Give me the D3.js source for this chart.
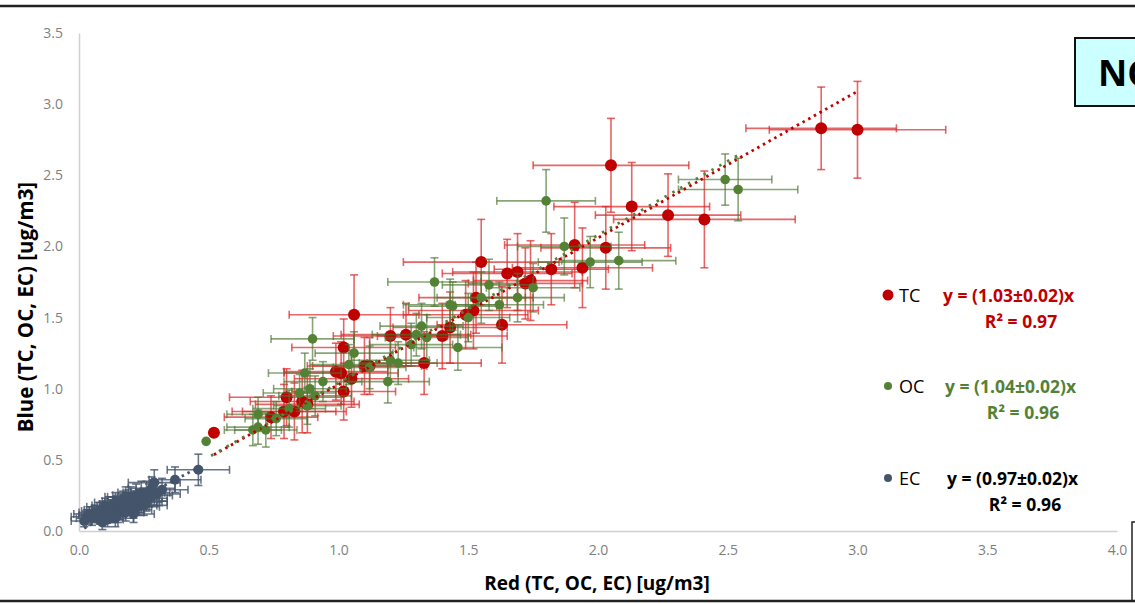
<!DOCTYPE html>
<html>
<head>
<meta charset="utf-8">
<script src="https://cdn.jsdelivr.net/npm/d3@7/dist/d3.min.js"></script>
<style>
  body { margin: 0; background: #fff; }
  svg { display: block; }
</style>
</head>
<body>
<div id="chart"></div>
<script>
// TC (red) points
let tcX    = [2.86, 3.00, 2.05, 2.13, 2.27, 2.41, 2.03, 1.94, 1.91, 1.82, 1.74, 1.72, 1.69, 1.65, 1.55, 1.63, 1.53, 1.52, 1.49, 1.43, 1.40, 1.26, 1.20, 1.33, 1.06, 1.02, 1.10, 1.12, 0.99, 1.01, 1.05, 1.02, 0.80, 0.86, 0.88, 0.79, 0.83, 0.74, 0.52];
let tcY    = [2.83, 2.82, 2.57, 2.28, 2.22, 2.19, 1.99, 1.85, 2.01, 1.84, 1.76, 1.74, 1.82, 1.81, 1.89, 1.45, 1.64, 1.55, 1.52, 1.43, 1.37, 1.38, 1.37, 1.18, 1.52, 1.29, 1.16, 1.16, 1.12, 1.11, 1.07, 0.98, 0.94, 0.91, 0.89, 0.84, 0.84, 0.80, 0.69];
let tcXErr = [0.29, 0.34, 0.30, 0.30, 0.28, 0.35, 0.25, 0.27, 0.27, 0.22, 0.22, 0.22, 0.25, 0.25, 0.30, 0.25, 0.22, 0.25, 0.24, 0.22, 0.25, 0.25, 0.22, 0.22, 0.25, 0.20, 0.22, 0.22, 0.20, 0.22, 0.22, 0.20, 0.22, 0.20, 0.20, 0.20, 0.20, 0.18, 0.00];
let tcYErr = [0.29, 0.34, 0.33, 0.31, 0.29, 0.34, 0.29, 0.28, 0.30, 0.25, 0.28, 0.25, 0.27, 0.24, 0.30, 0.27, 0.25, 0.27, 0.24, 0.25, 0.23, 0.22, 0.20, 0.22, 0.28, 0.20, 0.20, 0.20, 0.20, 0.22, 0.20, 0.20, 0.20, 0.22, 0.20, 0.19, 0.20, 0.15, 0.00];

// OC (green) points
let ocX    = [2.49, 2.54, 1.80, 1.87, 1.97, 2.08, 1.58, 1.75, 1.69, 1.55, 1.62, 1.43, 1.37, 1.44, 1.50, 1.32, 1.30, 1.34, 1.28, 1.46, 1.23, 1.20, 1.19, 1.06, 1.04, 1.12, 0.90, 0.87, 0.94, 0.85, 0.89, 0.91, 0.88, 0.81, 0.76, 0.69, 0.69, 0.67, 0.72, 0.49];
let ocY    = [2.47, 2.40, 2.32, 2.00, 1.89, 1.90, 1.73, 1.71, 1.64, 1.64, 1.59, 1.59, 1.75, 1.58, 1.50, 1.44, 1.38, 1.36, 1.31, 1.29, 1.18, 1.20, 1.05, 1.25, 1.17, 1.15, 1.35, 1.11, 1.05, 0.97, 1.00, 0.95, 0.88, 0.86, 0.79, 0.82, 0.73, 0.71, 0.71, 0.63];
let ocXErr = [0.18, 0.23, 0.19, 0.18, 0.20, 0.22, 0.18, 0.18, 0.18, 0.17, 0.17, 0.18, 0.18, 0.17, 0.16, 0.16, 0.17, 0.16, 0.16, 0.17, 0.15, 0.15, 0.16, 0.15, 0.15, 0.14, 0.16, 0.14, 0.15, 0.14, 0.14, 0.14, 0.13, 0.14, 0.12, 0.12, 0.12, 0.11, 0.12, 0.00];
let ocYErr = [0.18, 0.22, 0.22, 0.20, 0.18, 0.20, 0.18, 0.17, 0.17, 0.18, 0.16, 0.18, 0.17, 0.17, 0.17, 0.16, 0.15, 0.16, 0.15, 0.16, 0.15, 0.15, 0.15, 0.15, 0.14, 0.15, 0.15, 0.14, 0.14, 0.13, 0.14, 0.14, 0.13, 0.13, 0.12, 0.12, 0.12, 0.11, 0.12, 0.00];

// EC (slate) points
let ecX    = [0.02, 0.03, 0.04, 0.05, 0.06, 0.07, 0.08, 0.08, 0.09, 0.10, 0.10, 0.11, 0.12, 0.12, 0.13, 0.13, 0.14, 0.14, 0.15, 0.15, 0.16, 0.16, 0.17, 0.17, 0.18, 0.18, 0.19, 0.19, 0.20, 0.20, 0.21, 0.21, 0.22, 0.22, 0.23, 0.23, 0.24, 0.24, 0.25, 0.26, 0.26, 0.27, 0.28, 0.29, 0.30, 0.32, 0.37, 0.46, 0.11, 0.09, 0.14, 0.18, 0.21, 0.25];
let ecY    = [0.07, 0.10, 0.12, 0.09, 0.13, 0.11, 0.14, 0.10, 0.15, 0.12, 0.17, 0.14, 0.11, 0.16, 0.18, 0.13, 0.15, 0.20, 0.12, 0.17, 0.19, 0.14, 0.21, 0.16, 0.18, 0.13, 0.22, 0.17, 0.19, 0.24, 0.15, 0.21, 0.18, 0.25, 0.22, 0.17, 0.20, 0.27, 0.23, 0.27, 0.21, 0.25, 0.30, 0.34, 0.26, 0.29, 0.36, 0.43, 0.08, 0.06, 0.09, 0.24, 0.12, 0.18];
let ecXErr = [0.05, 0.06, 0.06, 0.06, 0.06, 0.07, 0.07, 0.06, 0.07, 0.07, 0.07, 0.07, 0.06, 0.07, 0.08, 0.07, 0.07, 0.08, 0.07, 0.08, 0.08, 0.07, 0.08, 0.08, 0.08, 0.07, 0.08, 0.08, 0.08, 0.09, 0.07, 0.08, 0.08, 0.09, 0.08, 0.08, 0.08, 0.09, 0.09, 0.09, 0.08, 0.09, 0.09, 0.10, 0.09, 0.10, 0.10, 0.12, 0.06, 0.06, 0.07, 0.08, 0.08, 0.09];
let ecYErr = [0.04, 0.05, 0.05, 0.05, 0.05, 0.05, 0.06, 0.05, 0.06, 0.06, 0.06, 0.06, 0.05, 0.06, 0.06, 0.06, 0.06, 0.07, 0.06, 0.06, 0.07, 0.06, 0.07, 0.06, 0.07, 0.06, 0.07, 0.06, 0.07, 0.07, 0.06, 0.07, 0.07, 0.08, 0.07, 0.06, 0.07, 0.08, 0.07, 0.08, 0.07, 0.08, 0.08, 0.09, 0.08, 0.08, 0.09, 0.11, 0.05, 0.05, 0.06, 0.07, 0.06, 0.07];

// fits and legend
let fitSlopes = [1.03, 1.04, 0.97];
let fitFrom   = [0.52, 0.49, 0.02];
let fitTo     = [3.00, 2.54, 0.46];
let seriesNames = ["TC", "OC", "EC"];
let equations = ["y = (1.03±0.02)x", "y = (1.04±0.02)x", "y = (0.97±0.02)x"];
let r2Labels  = ["R² = 0.97", "R² = 0.96", "R² = 0.96"];
let xTicks = [0, 0.5, 1, 1.5, 2, 2.5, 3, 3.5, 4];
let yTicks = [0, 0.5, 1, 1.5, 2, 2.5, 3, 3.5];

let W = 1135, H = 604;
let margin = {top: 33, right: 18, bottom: 73, left: 79};

let svg = d3.select("#chart").append("svg")
    .attr("width", W)
    .attr("height", H);

let x = d3.scaleLinear().domain([0, 4]).range([margin.left, W - margin.right]);
let y = d3.scaleLinear().domain([0, 3.5]).range([H - margin.bottom, margin.top]);

// axes
let xAxis = svg.append("g")
    .attr("transform", "translate(0," + (H - margin.bottom) + ")")
    .call(d3.axisBottom(x).tickValues(xTicks).tickSize(0).tickPadding(14).tickFormat(d3.format(".1f")));
xAxis.select(".domain").attr("stroke", "#d0d0d0").attr("stroke-width", 1.5);
xAxis.selectAll("text")
    .style("font-family", "'Open Sans', sans-serif")
    .style("font-size", "14px")
    .attr("fill", "#7f7f7f");

let yAxis = svg.append("g")
    .attr("transform", "translate(" + margin.left + ",0)")
    .call(d3.axisLeft(y).tickValues(yTicks).tickSize(0).tickPadding(16).tickFormat(d3.format(".1f")));
yAxis.select(".domain").attr("stroke", "#d0d0d0").attr("stroke-width", 1.5);
yAxis.selectAll("text")
    .style("font-family", "'Open Sans', sans-serif")
    .style("font-size", "14px")
    .attr("fill", "#7f7f7f");

// axis titles
svg.append("text")
    .attr("x", 597)
    .attr("y", 590)
    .attr("text-anchor", "middle")
    .style("font-family", "'Open Sans', sans-serif")
    .style("font-weight", "bold")
    .style("font-size", "19px")
    .text("Red (TC, OC, EC) [ug/m3]");

svg.append("text")
    .attr("transform", "translate(33,307) rotate(-90)")
    .attr("text-anchor", "middle")
    .style("font-family", "'Open Sans', sans-serif")
    .style("font-weight", "bold")
    .style("font-size", "20.5px")
    .text("Blue (TC, OC, EC) [ug/m3]");

// draws one series: error bars then markers
function drawSeries(xs, ys, xe, ye, barColor, barOpacity, fill, r) {
    let g = svg.append("g");
    let cap = 4;
    xs.forEach(function (d, i) {
        let px = x(xs[i]), py = y(ys[i]);
        let bars = g.append("g")
            .attr("stroke", barColor)
            .attr("stroke-opacity", barOpacity)
            .attr("stroke-width", 1.6);
        if (xe[i] > 0) {
            bars.append("line").attr("x1", x(xs[i] - xe[i])).attr("x2", x(xs[i] + xe[i])).attr("y1", py).attr("y2", py);
            bars.append("line").attr("x1", x(xs[i] - xe[i])).attr("x2", x(xs[i] - xe[i])).attr("y1", py - cap).attr("y2", py + cap);
            bars.append("line").attr("x1", x(xs[i] + xe[i])).attr("x2", x(xs[i] + xe[i])).attr("y1", py - cap).attr("y2", py + cap);
        }
        if (ye[i] > 0) {
            bars.append("line").attr("x1", px).attr("x2", px).attr("y1", y(ys[i] - ye[i])).attr("y2", y(ys[i] + ye[i]));
            bars.append("line").attr("x1", px - cap).attr("x2", px + cap).attr("y1", y(ys[i] - ye[i])).attr("y2", y(ys[i] - ye[i]));
            bars.append("line").attr("x1", px - cap).attr("x2", px + cap).attr("y1", y(ys[i] + ye[i])).attr("y2", y(ys[i] + ye[i]));
        }
    });
    g.selectAll("circle")
        .data(xs)
        .enter().append("circle")
        .attr("cx", (d, i) => x(xs[i]))
        .attr("cy", (d, i) => y(ys[i]))
        .attr("r", r)
        .attr("fill", fill);
}

drawSeries(tcX, tcY, tcXErr, tcYErr, "#d92b2b", 0.72, "#C00000", 6);
drawSeries(ocX, ocY, ocXErr, ocYErr, "#4a7530", 0.65, "#548235", 4.8);
drawSeries(ecX, ecY, ecXErr, ecYErr, "#44546A", 0.8, "#44546A", 5);

// dotted trend lines
let fitColors = ["#C00000", "#548235", "#44546A"];
fitSlopes.forEach(function (s, i) {
    svg.append("line")
        .attr("x1", x(fitFrom[i]))
        .attr("y1", y(fitFrom[i] * s))
        .attr("x2", x(fitTo[i]))
        .attr("y2", y(fitTo[i] * s))
        .attr("stroke", fitColors[i])
        .attr("stroke-width", 2.8)
        .attr("stroke-dasharray", i == 1 ? "2.5,6.5" : "2.5,4")
        .attr("stroke-dashoffset", i == 1 ? 3.3 : 0);
});

// legend with fit equations
let legendY = [295, 386, 478];
let legendR = [5.5, 4, 4];
let eqColors = ["#C00000", "#548235", "#000000"];
let eqX = [943, 945, 947];
seriesNames.forEach(function (name, i) {
    svg.append("circle")
        .attr("cx", 888)
        .attr("cy", legendY[i])
        .attr("r", legendR[i])
        .attr("fill", fitColors[i]);
    svg.append("text")
        .attr("x", 899)
        .attr("y", legendY[i] + 7)
        .style("font-family", "'Open Sans', sans-serif")
        .style("font-size", "18px")
        .attr("fill", "#000")
        .text(name);
    svg.append("text")
        .attr("x", eqX[i])
        .attr("y", legendY[i] + 7)
        .style("font-family", "'Open Sans', sans-serif")
        .style("font-weight", "bold")
        .style("font-size", "17.5px")
        .attr("fill", eqColors[i])
        .text(equations[i]);
    svg.append("text")
        .attr("x", eqX[i] + 78)
        .attr("y", legendY[i] + 33)
        .attr("text-anchor", "middle")
        .style("font-family", "'Open Sans', sans-serif")
        .style("font-weight", "bold")
        .style("font-size", "17.5px")
        .attr("fill", eqColors[i])
        .text(r2Labels[i]);
});

// slide frame pieces
svg.append("line").attr("x1", 0).attr("x2", W).attr("y1", 6).attr("y2", 6)
    .attr("stroke", "#222").attr("stroke-width", 2.5);
svg.append("line").attr("x1", 0).attr("x2", W).attr("y1", 601).attr("y2", 601)
    .attr("stroke", "#222").attr("stroke-width", 2.5);
svg.append("path").attr("d", "M1132,601V522H1136")
    .attr("fill", "none").attr("stroke", "#222").attr("stroke-width", 1.5);

// site label box
svg.append("rect")
    .attr("x", 1075).attr("y", 38).attr("width", 80).attr("height", 68)
    .attr("fill", "#ccffff").attr("stroke", "#111").attr("stroke-width", 2);
svg.append("text")
    .attr("x", 1098).attr("y", 86)
    .style("font-family", "'Open Sans', sans-serif")
    .style("font-weight", "bold")
    .style("font-size", "36px")
    .text("NC");
</script>
</body>
</html>
